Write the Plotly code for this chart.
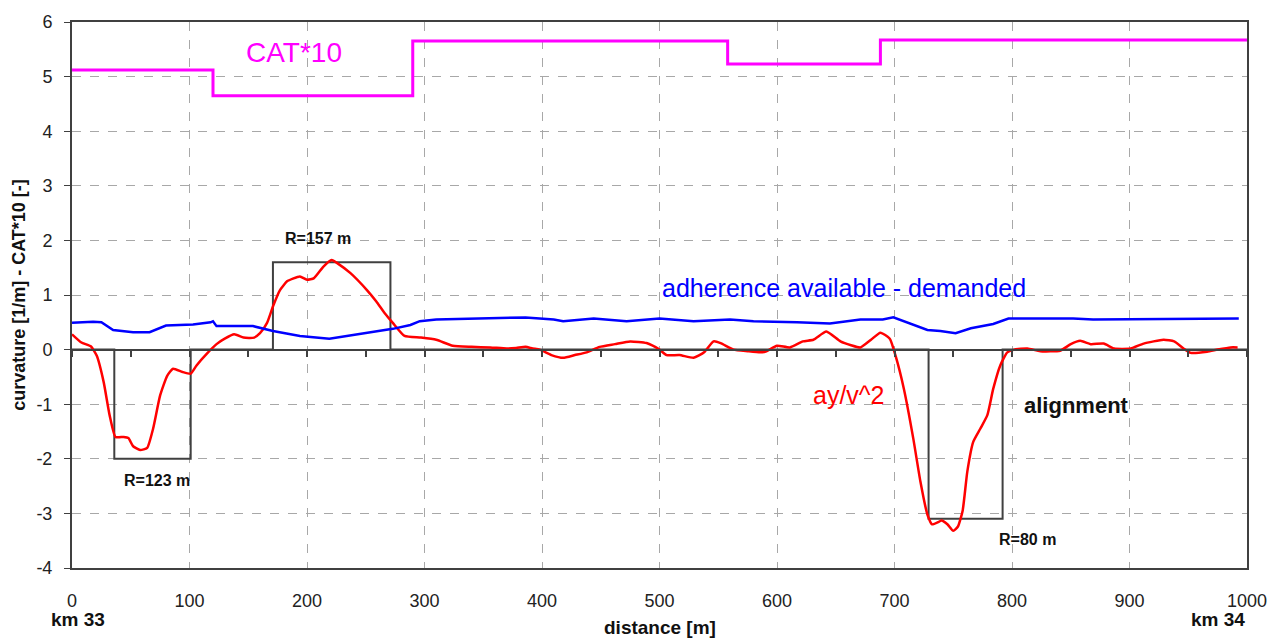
import plotly.graph_objects as go

# ---- data ----
cat_x = [0, 120, 290, 558, 688, 1000]
cat_y = [5.12, 4.65, 5.65, 5.23, 5.67, 5.67]

align_x = [0, 36, 101, 171, 271, 729, 792, 1000]
align_y = [0, -2, 0, 1.6, 0, -3.1, 0, 0]

red_x = [0, 8, 16, 21, 27, 32, 37, 44, 48, 52, 58, 64, 69, 75, 81, 86, 94, 101, 106, 115,
         123, 130, 138, 146, 155, 160, 166, 171, 177, 183, 188, 194, 200, 206, 214, 221, 226,
         237, 251, 259, 266, 273, 283, 297, 310, 324, 340, 356, 370, 378, 386, 392, 398, 408,
         418, 428, 438, 449, 462, 475, 489, 500, 506, 517, 529, 538, 546, 552, 563, 575, 586,
         591, 600, 611, 622, 631, 642, 654, 663, 671, 680, 688, 696, 701, 708, 716, 722, 728,
         732, 738, 740, 745, 750, 754, 758, 762, 767, 773, 779, 784, 790, 796, 802, 813, 824,
         841, 850, 858, 867, 878, 887, 901, 912, 929, 938, 946, 952, 966, 975, 986, 992]
red_y = [0.28, 0.13, 0.06, -0.11, -0.6, -1.2, -1.6, -1.6, -1.62, -1.77, -1.84, -1.8, -1.45,
         -0.84, -0.48, -0.35, -0.41, -0.44, -0.29, -0.07, 0.1, 0.2, 0.28, 0.22, 0.22, 0.3, 0.49,
         0.79, 1.09, 1.25, 1.3, 1.34, 1.28, 1.31, 1.52, 1.64, 1.58, 1.4, 1.09, 0.88, 0.67, 0.49,
         0.25, 0.22, 0.18, 0.07, 0.05, 0.04, 0.02, 0.03, 0.05, 0.02, 0.0, -0.1, -0.15, -0.1,
         -0.05, 0.05, 0.1, 0.15, 0.12, 0.0, -0.1, -0.1, -0.15, -0.05, 0.15, 0.12, 0.0, -0.03,
         -0.05, -0.03, 0.07, 0.04, 0.15, 0.18, 0.33, 0.15, 0.08, 0.04, 0.18, 0.31, 0.2, -0.12,
         -0.72, -1.63, -2.41, -3.02, -3.2, -3.15, -3.13, -3.2, -3.32, -3.24, -2.95, -2.23, -1.69,
         -1.45, -1.2, -0.72, -0.29, -0.05, 0.0, 0.02, -0.03, -0.02, 0.1, 0.16, 0.1, 0.11, 0.02,
         0.02, 0.11, 0.18, 0.15, 0.02, -0.06, -0.04, 0.0, 0.04, 0.04]

blue_x = [0, 18, 25, 35, 52, 66, 80, 103, 118, 120, 123, 154, 171, 194, 219, 250, 273, 288,
          296, 310, 356, 386, 410, 418, 444, 472, 500, 529, 560, 580, 617, 645, 671, 690, 699,
          710, 728, 739, 752, 765, 784, 797, 852, 869, 912, 940, 993]
blue_y = [0.49, 0.51, 0.5, 0.36, 0.32, 0.32, 0.44, 0.46, 0.5, 0.52, 0.43, 0.43, 0.34, 0.25,
          0.2, 0.31, 0.38, 0.45, 0.52, 0.55, 0.57, 0.59, 0.55, 0.52, 0.57, 0.52, 0.57, 0.52,
          0.55, 0.52, 0.5, 0.48, 0.55, 0.55, 0.59, 0.5, 0.36, 0.34, 0.3, 0.39, 0.47, 0.57, 0.57,
          0.55, 0.56, 0.57, 0.57]

x_ticks = [0, 100, 200, 300, 400, 500, 600, 700, 800, 900, 1000]
y_ticks = [-4, -3, -2, -1, 0, 1, 2, 3, 4, 5, 6]
y_ticktext = [str(v) for v in y_ticks]

FONT = "Liberation Sans, Arial, sans-serif"
AX = "#404040"

fig = go.Figure()
fig.add_trace(go.Scatter(x=align_x, y=align_y, mode="lines", line=dict(color="#404040", width=2, shape="hv")))
fig.add_trace(go.Scatter(x=red_x, y=red_y, mode="lines", line=dict(color="#ff0000", width=2.5, shape="spline", smoothing=0.5)))
fig.add_trace(go.Scatter(x=blue_x, y=blue_y, mode="lines", line=dict(color="#0000ff", width=2.5)))
fig.add_trace(go.Scatter(x=cat_x, y=cat_y, mode="lines", line=dict(color="#ff00ff", width=3, shape="hv")))
# invisible trace for the zero-crossing axis
fig.add_trace(go.Scatter(x=[0, 1000], y=[0, 0], xaxis="x2", mode="lines", line=dict(width=0), hoverinfo="skip"))

fig.update_layout(
    width=1279, height=638,
    margin=dict(l=72, r=32, t=17, b=70),
    plot_bgcolor="white", paper_bgcolor="white",
    showlegend=False,
    font=dict(family=FONT, color="#222222"),
    xaxis=dict(range=[0, 1000], tickvals=x_ticks, showgrid=True, gridcolor="#a8a8a8",
               griddash="dash", gridwidth=1, showline=True, linecolor=AX, linewidth=2,
               mirror=True, ticks="", ticklabelstandoff=15, zeroline=False,
               tickfont=dict(size=18, color="#222222", family=FONT)),
    xaxis2=dict(range=[0, 1000], overlaying="x", anchor="free", position=0.4, side="bottom",
                showline=True, linecolor=AX, linewidth=2, ticks="outside", ticklen=6,
                tickwidth=1.5, tickcolor=AX, dtick=50, tick0=0, showticklabels=False,
                showgrid=False, zeroline=False),
    yaxis=dict(range=[-4, 6], tickvals=y_ticks, ticktext=y_ticktext, showgrid=True,
               gridcolor="#a8a8a8", griddash="dash", gridwidth=1, showline=True,
               linecolor=AX, linewidth=2, mirror=True, ticks="outside", ticklen=6,
               tickcolor=AX, zeroline=False, ticklabelstandoff=8,
               tickfont=dict(size=18, color="#222222", family=FONT),
               title=dict(text="<b>curvature [1/m] - CAT*10 [-]</b>", standoff=6,
                          font=dict(size=18, color="#111111", family=FONT))),
)

ann = [
    dict(x=189, y=5.44, text="CAT*10", font=dict(size=28, color="#ff00ff")),
    dict(x=209, y=2.03, text="<b>R=157 m</b>", font=dict(size=16, color="#111111")),
    dict(x=72, y=-2.4, text="<b>R=123 m</b>", font=dict(size=16, color="#111111")),
    dict(x=813, y=-3.47, text="<b>R=80 m</b>", font=dict(size=16, color="#111111")),
    dict(x=855, y=-1.02, text="<b>alignment</b>", font=dict(size=22, color="#111111")),
    dict(x=657, y=1.13, text="adherence available - demanded", font=dict(size=25, color="#0000ff")),
    dict(x=661, y=-0.83, text="ay/v^2", font=dict(size=25, color="#ff0000")),
]
for a in ann:
    fig.add_annotation(xref="x", yref="y", showarrow=False, font_family=FONT, **a)

for x, y, txt, sz in [(5, -0.094, "<b>km 33</b>", 19), (975, -0.094, "<b>km 34</b>", 19),
                      (500, -0.109, "<b>distance [m]</b>", 19)]:
    fig.add_annotation(xref="x", yref="paper", x=x, y=y, yanchor="middle", text=txt,
                       showarrow=False, font=dict(size=sz, color="#111111", family=FONT))

fig.write_html("out.html")
